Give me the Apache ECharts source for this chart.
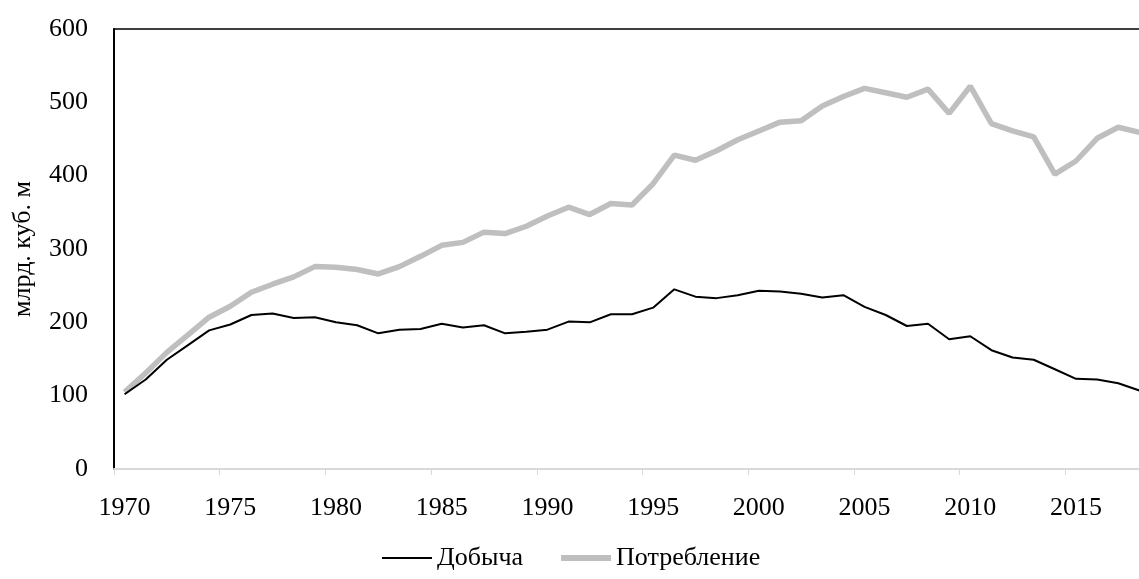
<!DOCTYPE html>
<html>
<head>
<meta charset="utf-8">
<script src="https://cdn.jsdelivr.net/npm/echarts@6/dist/echarts.min.js"></script>
<style>html,body{margin:0;padding:0;background:#fff;overflow:hidden;width:1139px;height:579px;}#chart{width:1150px;height:579px;}</style>
</head>
<body>
<div id="chart"></div>
<script>
const years = ['1970','1971','1972','1973','1974','1975','1976','1977','1978','1979',
  '1980','1981','1982','1983','1984','1985','1986','1987','1988','1989',
  '1990','1991','1992','1993','1994','1995','1996','1997','1998','1999',
  '2000','2001','2002','2003','2004','2005','2006','2007','2008','2009',
  '2010','2011','2012','2013','2014','2015','2016','2017','2018'];
const production = [102,122,149,169,189,197,210,212,206,207,
  200,196,185,190,191,198,193,196,185,187,
  190,201,200,211,211,220,245,235,233,237,
  243,242,239,234,237,221,210,195,198,177,
  181,162,152,149,136,123,122,117,107];
const consumption = [105,131,159,183,207,222,241,252,262,276,
  275,272,266,276,290,305,309,323,321,331,
  345,357,347,362,360,389,428,421,434,449,
  461,473,475,495,508,519,513,507,518,485,
  522,471,461,453,402,420,451,466,459];
const yTicks = {min:0, max:600, interval:100};
const seriesNames = ['Добыча','Потребление'];
const yName = 'млрд. куб. м';

const font = 'Liberation Serif';
const chart = echarts.init(document.getElementById('chart'), null, {renderer:'canvas'});
chart.setOption({
  animation:false,
  backgroundColor:'#fff',
  grid:{left:114, top:29, height:440, right:0, containLabel:false},
  legend:{
    top:540, left:377, itemGap:38, itemWidth:50, itemHeight:14,
    textStyle:{fontFamily:font, fontSize:26, color:'#000'},
    data:[{name:seriesNames[0], icon:'path://M0,6L50,6L50,8L0,8Z'}, {name:seriesNames[1], icon:'path://M0,4L50,4L50,10L0,10Z'}]
  },
  xAxis:[{
    type:'category', data:years, boundaryGap:true,
    axisLine:{show:true, lineStyle:{color:'#d9d9d9', width:2}},
    axisTick:{show:true, interval:4, length:6, lineStyle:{color:'#d9d9d9', width:1}},
    axisLabel:{interval:4, margin:26, fontFamily:font, fontSize:26, color:'#000'},
    splitLine:{show:false}
  },{
    type:'category', data:years, position:'top', boundaryGap:true,
    axisLine:{show:true, lineStyle:{color:'#000', width:1.5}},
    axisTick:{show:false}, axisLabel:{show:false}, splitLine:{show:false}
  }],
  yAxis:{
    type:'value', min:yTicks.min, max:yTicks.max, interval:yTicks.interval,
    name:yName, nameLocation:'middle', nameGap:78, nameRotate:90,
    nameTextStyle:{fontFamily:font, fontSize:26, color:'#000'},
    axisLine:{show:true, lineStyle:{color:'#000', width:2}},
    axisTick:{show:false},
    axisLabel:{margin:26, fontFamily:font, fontSize:26, color:'#000'},
    splitLine:{show:false}
  },
  series:[{
    name:seriesNames[0], type:'line', data:production, symbol:'none',
    lineStyle:{color:'#000', width:2}, itemStyle:{color:'#000'}, z:3
  },{
    name:seriesNames[1], type:'line', data:consumption, symbol:'none',
    lineStyle:{color:'#bfbfbf', width:5.5}, itemStyle:{color:'#bfbfbf'}, z:2
  }]
});
</script>
</body>
</html>
